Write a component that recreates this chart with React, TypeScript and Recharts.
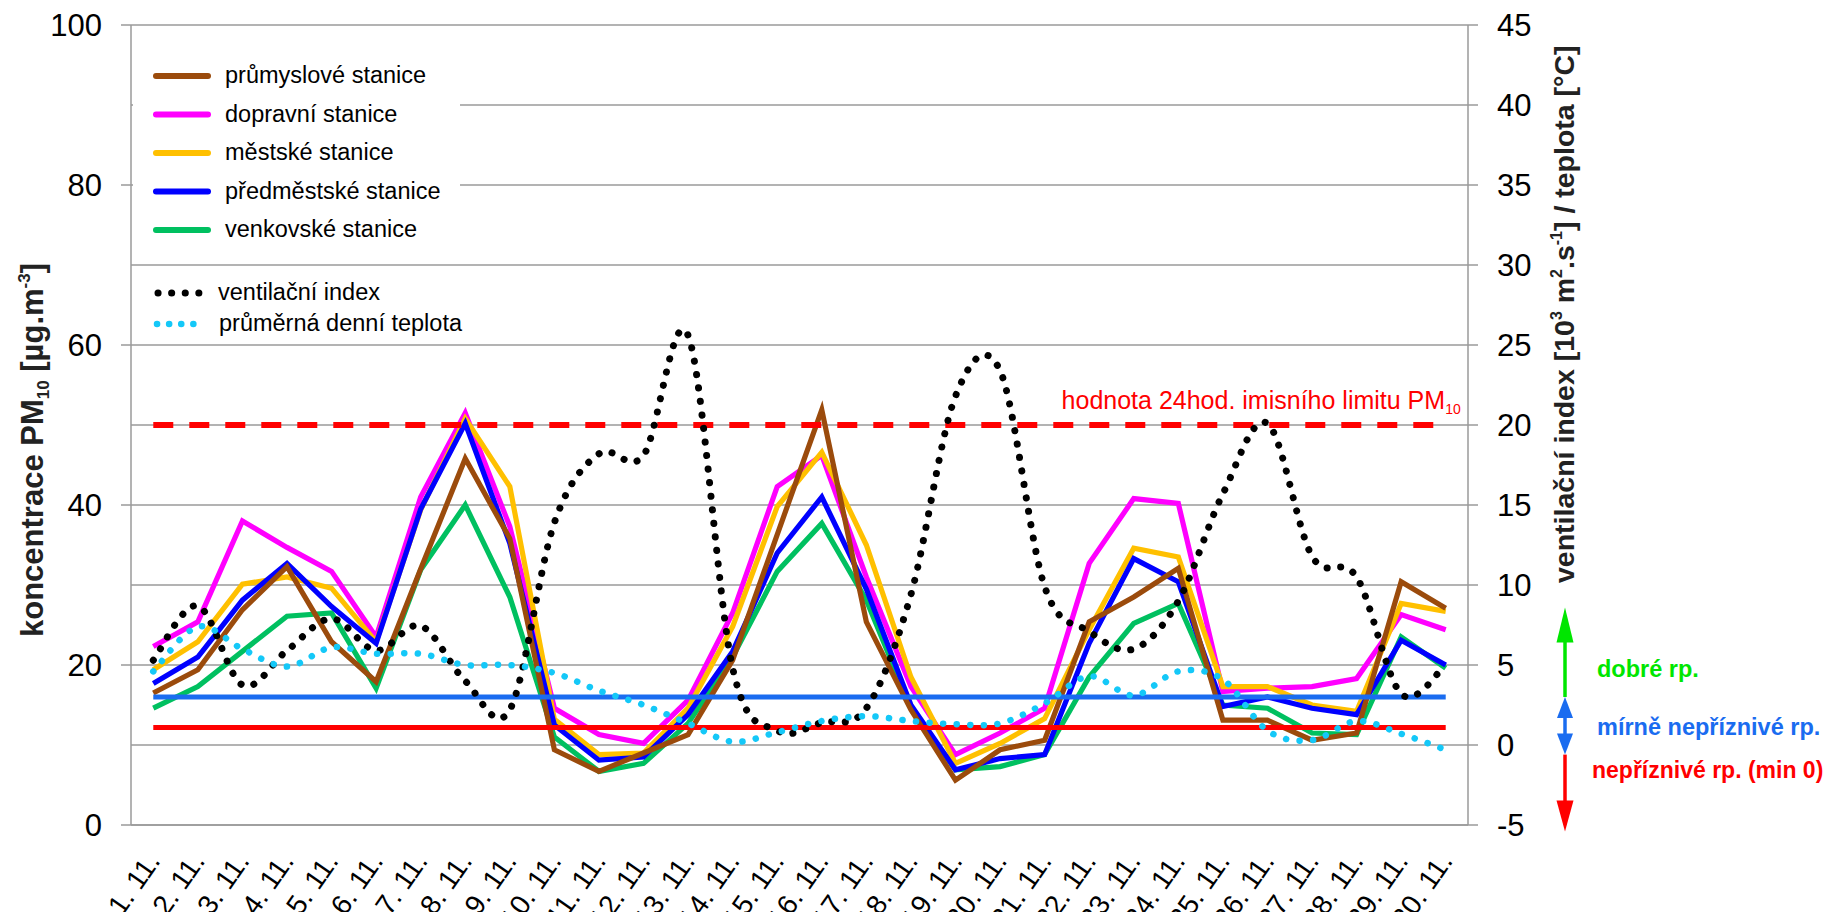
import React from "react";
import {
  LineChart,
  Line,
  XAxis,
  YAxis,
  CartesianGrid,
  ReferenceLine,
} from "recharts";

const days = [
  "1. 11.", "2. 11.", "3. 11.", "4. 11.", "5. 11.", "6. 11.", "7. 11.", "8. 11.", "9. 11.", "10. 11.",
  "11. 11.", "12. 11.", "13. 11.", "14. 11.", "15. 11.", "16. 11.", "17. 11.", "18. 11.", "19. 11.", "20. 11.",
  "21. 11.", "22. 11.", "23. 11.", "24. 11.", "25. 11.", "26. 11.", "27. 11.", "28. 11.", "29. 11.", "30. 11.",
];

// PM10 [µg.m-3]
const prumyslove = [16.5, 19.4, 26.9, 32.3, 22.9, 17.9, 32.0, 45.8, 35.8, 9.4, 6.7, 9.0, 11.3, 20.6, 36.3, 51.9, 25.4, 14.4, 5.6, 9.4, 10.6, 25.4, 28.5, 32.1, 13.1, 13.1, 10.6, 11.5, 30.4, 27.1];
const dopravni = [22.3, 25.4, 38.0, 34.7, 31.7, 23.5, 41.0, 51.5, 37.3, 14.6, 11.3, 10.2, 15.6, 26.5, 42.3, 46.2, 31.0, 17.3, 8.8, 11.5, 14.6, 32.7, 40.8, 40.2, 16.7, 17.1, 17.3, 18.3, 26.3, 24.4];
const mestske = [19.4, 22.9, 30.1, 31.0, 29.6, 22.9, 39.4, 50.8, 42.3, 13.2, 8.8, 9.0, 14.6, 24.8, 39.8, 46.6, 35.0, 18.5, 7.7, 10.2, 13.3, 24.4, 34.6, 33.5, 17.3, 17.3, 15.0, 14.2, 27.7, 26.7];
const predmestske = [17.7, 21.0, 28.1, 32.7, 27.3, 22.7, 39.5, 50.2, 35.2, 12.5, 8.1, 8.5, 13.8, 21.7, 34.0, 41.0, 29.5, 15.0, 6.9, 8.3, 8.8, 22.7, 33.3, 30.4, 14.8, 16.0, 14.6, 13.8, 23.1, 20.0];
const venkovske = [14.6, 17.3, 21.7, 26.1, 26.5, 17.1, 31.9, 40.0, 28.5, 11.0, 6.7, 7.7, 12.7, 21.0, 31.7, 37.7, 28.1, 14.6, 6.9, 7.3, 8.8, 18.5, 25.2, 27.7, 15.0, 14.6, 11.5, 11.3, 23.5, 19.6];

// right axis: ventilation index [10^3 m2.s-1] / temperature [°C]
const ventilacni = [5.3, 8.7, 3.75, 5.9, 7.9, 5.9, 7.45, 4.0, 2.2, 13.9, 18.2, 18.1, 25.6, 4.8, 0.9, 1.4, 2.3, 9.4, 21.8, 23.4, 9.9, 7.1, 6.0, 9.0, 15.7, 20.1, 11.8, 10.5, 3.2, 5.0];
const teplota = [4.6, 7.4, 6.0, 4.9, 6.1, 5.7, 5.7, 5.0, 5.0, 4.5, 3.4, 2.5, 1.35, 0.2, 0.8, 1.5, 1.8, 1.5, 1.3, 1.35, 2.6, 4.3, 3.1, 4.6, 4.1, 0.9, 0.3, 1.5, 0.7, -0.3];

const leftTicks = [0, 20, 40, 60, 80, 100];
const rightTicks = [-5, 0, 5, 10, 15, 20, 25, 30, 35, 40, 45];

const limitPM10 = 50;
const ventGood = 3; // 3000 m2/s
const ventBad = 1.1; // 1100 m2/s

const FONT = "'Liberation Sans', Arial, sans-serif";
const GRID = "#9a9a9a";

const W = 1834;
const H = 920;
const PLOT_TOP = 25;
const PLOT_H = 800;
const rightY = (v: number) => PLOT_TOP + ((45 - v) / 50) * PLOT_H;

const data = days.map((label, i) => ({
  day: i + 1,
  label,
  prumyslove: prumyslove[i],
  dopravni: dopravni[i],
  mestske: mestske[i],
  predmestske: predmestske[i],
  venkovske: venkovske[i],
  ventilacni: ventilacni[i],
  teplota: teplota[i],
}));

const dayTicks = days.map((_, i) => i + 1);
const boundaryTicks = [0.5, ...days.map((_, i) => i + 1.5)];

const series = [
  { key: "venkovske", name: "venkovské stanice", color: "#00C060" },
  { key: "dopravni", name: "dopravní stanice", color: "#FF00FF" },
  { key: "mestske", name: "městské stanice", color: "#FFC000" },
  { key: "predmestske", name: "předměstské stanice", color: "#0000FF" },
  { key: "prumyslove", name: "průmyslové stanice", color: "#9B4B0C" },
];
const legendOrder = ["prumyslove", "dopravni", "mestske", "predmestske", "venkovske"];

// smoothing like the spreadsheet (Catmull-Rom through the points)
const smooth = (context: any) => {
  let pts: number[][] = [];
  return {
    areaStart() {},
    areaEnd() {},
    lineStart() {
      pts = [];
    },
    point(x: number, y: number) {
      pts.push([x, y]);
    },
    lineEnd() {
      if (!pts.length) return;
      context.moveTo(pts[0][0], pts[0][1]);
      for (let i = 0; i < pts.length - 1; i++) {
        const p0 = pts[i - 1] || pts[i];
        const p1 = pts[i];
        const p2 = pts[i + 1];
        const p3 = pts[i + 2] || p2;
        context.bezierCurveTo(
          p1[0] + (p2[0] - p0[0]) / 6,
          p1[1] + (p2[1] - p0[1]) / 6,
          p2[0] - (p3[0] - p1[0]) / 6,
          p2[1] - (p3[1] - p1[1]) / 6,
          p2[0],
          p2[1]
        );
      }
    },
  };
};

const DayTick = (props: any) => {
  const { x, y, payload } = props;
  const label = days[payload.value - 1];
  if (!label) return null;
  return (
    <text
      transform={`translate(${x + 8},${y + 35}) rotate(-55)`}
      textAnchor="end"
      fontSize={28}
      fontFamily={FONT}
      fill="#000"
    >
      {label}
    </text>
  );
};

const LimitLabel = (props: any) => {
  const vb = props.viewBox || {};
  const x = (vb.x || 0) + (vb.width || 0) + 15;
  const y = (vb.y || 0) - 16;
  return (
    <text x={x} y={y} textAnchor="end" fontSize={25} fontFamily={FONT} fill="#FF0000">
      hodnota 24hod. imisního limitu PM
      <tspan fontSize={14} dy={5}>10</tspan>
    </text>
  );
};

function Overlay() {
  const ax = 1565;
  const gTip = rightY(8.6);
  const gBase = rightY(ventGood);
  const bBottom = rightY(-0.6);
  const rTip = rightY(-5.4);
  return (
    <svg
      width={W}
      height={H}
      style={{ position: "absolute", left: 0, top: 0, pointerEvents: "none" }}
      fontFamily={FONT}
    >
      {/* legend boxes */}
      <rect x={133} y={60} width={327} height={197} fill="#fff" />
      {legendOrder.map((k, i) => {
        const s = series.find((d) => d.key === k)!;
        const cy = 76 + i * 38.5;
        return (
          <g key={k}>
            <line x1={156} x2={208} y1={cy} y2={cy} stroke={s.color} strokeWidth={6} strokeLinecap="round" />
            <text x={225} y={cy + 7} fontSize={23.5} fill="#000">
              {s.name}
            </text>
          </g>
        );
      })}
      <rect x={133} y={270} width={330} height={70} fill="#fff" />
      <line x1={158} x2={200} y1={293} y2={293} stroke="#000" strokeWidth={7} strokeLinecap="round" strokeDasharray="0.1 13.5" />
      <text x={218} y={300} fontSize={23.5} fill="#000">ventilační index</text>
      <line x1={157} x2={205} y1={324} y2={324} stroke="#14C8F8" strokeWidth={6.5} strokeLinecap="round" strokeDasharray="0.1 12" />
      <text x={219} y={331} fontSize={23.5} fill="#000">průměrná denní teplota</text>

      {/* axis titles */}
      <text transform="translate(43,637) rotate(-90)" fontSize={31} fontWeight="bold" fill="#222">
        koncentrace PM<tspan fontSize={17} dy={6}>10</tspan>
        <tspan dy={-6}> [µg.m</tspan>
        <tspan fontSize={17} dy={-13}>-3</tspan>
        <tspan dy={13}>]</tspan>
      </text>
      <text transform="translate(1574,583) rotate(-90)" fontSize={28.5} fontWeight="bold" fill="#222">
        ventilační index [10<tspan fontSize={16} dy={-12}>3</tspan>
        <tspan dy={12}> m</tspan>
        <tspan fontSize={16} dy={-12}>2</tspan>
        <tspan dy={12}>.s</tspan>
        <tspan fontSize={16} dy={-12}>-1</tspan>
        <tspan dy={12}>] / teplota [°C]</tspan>
      </text>

      {/* dispersion condition arrows */}
      <line x1={ax} x2={ax} y1={gTip + 34} y2={gBase} stroke="#00E600" strokeWidth={3.5} />
      <polygon points={`${ax},${gTip} ${ax - 8.5},${gTip + 35} ${ax + 8.5},${gTip + 35}`} fill="#00E600" />
      <line x1={ax} x2={ax} y1={gBase + 20} y2={bBottom - 20} stroke="#1A6CF0" strokeWidth={3.5} />
      <polygon points={`${ax},${gBase} ${ax - 8},${gBase + 21} ${ax + 8},${gBase + 21}`} fill="#1A6CF0" />
      <polygon points={`${ax},${bBottom} ${ax - 8},${bBottom - 21} ${ax + 8},${bBottom - 21}`} fill="#1A6CF0" />
      <line x1={ax} x2={ax} y1={bBottom} y2={rTip - 30} stroke="#FF0000" strokeWidth={3.5} />
      <polygon points={`${ax},${rTip} ${ax - 8.5},${rTip - 31} ${ax + 8.5},${rTip - 31}`} fill="#FF0000" />

      <text x={1597} y={677} fontSize={23.5} fontWeight="bold" fill="#00E600">dobré rp.</text>
      <text x={1597} y={735} fontSize={23.5} fontWeight="bold" fill="#1A6CF0">mírně nepříznivé rp.</text>
      <text x={1592} y={778} fontSize={23} fontWeight="bold" fill="#FF0000">nepříznivé rp. (min 0)</text>
    </svg>
  );
}

export default function App() {
  const tickStyle = { fontSize: 31, fill: "#000", fontFamily: FONT };
  return (
    <div style={{ position: "relative", width: W, height: H, margin: -8, background: "#fff", fontFamily: FONT }}>
      <LineChart width={W} height={H} data={data} margin={{ top: PLOT_TOP, right: 0, bottom: 0, left: 0 }}>
        <CartesianGrid yAxisId="right" xAxisId="bounds" vertical={false} stroke={GRID} strokeWidth={1.5} />
        <XAxis
          xAxisId="bounds"
          dataKey="day"
          type="number"
          domain={[0.5, 30.5]}
          ticks={boundaryTicks}
          tick={false}
          tickSize={10}
          height={1}
          axisLine={{ stroke: GRID, strokeWidth: 1.5 }}
          tickLine={{ stroke: GRID, strokeWidth: 1.5 }}
          interval={0}
        />
        <XAxis
          xAxisId="days"
          dataKey="day"
          type="number"
          domain={[0.5, 30.5]}
          ticks={dayTicks}
          tick={<DayTick />}
          tickSize={0}
          tickMargin={0}
          height={94}
          axisLine={false}
          tickLine={false}
          interval={0}
        />
        <YAxis
          yAxisId="left"
          domain={[0, 100]}
          ticks={leftTicks}
          width={131}
          tick={tickStyle}
          tickSize={10}
          tickMargin={19}
          axisLine={{ stroke: GRID, strokeWidth: 1.5 }}
          tickLine={{ stroke: GRID, strokeWidth: 1.5 }}
          interval={0}
        />
        <YAxis
          yAxisId="right"
          orientation="right"
          domain={[-5, 45]}
          ticks={rightTicks}
          width={366}
          tick={tickStyle}
          tickSize={10}
          tickMargin={19}
          axisLine={{ stroke: GRID, strokeWidth: 1.5 }}
          tickLine={{ stroke: GRID, strokeWidth: 1.5 }}
          interval={0}
        />

        {series.map((s) => (
          <Line
            key={s.key}
            xAxisId="days"
            yAxisId="left"
            type="linear"
            dataKey={s.key}
            name={s.name}
            stroke={s.color}
            strokeWidth={5.2}
            strokeLinejoin="miter"
            dot={false}
            activeDot={false}
            isAnimationActive={false}
          />
        ))}

        <ReferenceLine
          xAxisId="days"
          yAxisId="right"
          segment={[{ x: 1, y: ventGood }, { x: 30, y: ventGood }]}
          stroke="#1A6CF0"
          strokeWidth={5}
        />
        <ReferenceLine
          xAxisId="days"
          yAxisId="right"
          segment={[{ x: 1, y: ventBad }, { x: 30, y: ventBad }]}
          stroke="#FF0000"
          strokeWidth={5}
        />
        <ReferenceLine
          xAxisId="days"
          yAxisId="left"
          segment={[{ x: 1, y: limitPM10 }, { x: 30, y: limitPM10 }]}
          stroke="#FF0000"
          strokeWidth={6}
          strokeDasharray="20 16"
          label={<LimitLabel />}
        />

        <Line
          xAxisId="days"
          yAxisId="right"
          type={smooth as any}
          dataKey="ventilacni"
          name="ventilační index"
          stroke="#000"
          strokeWidth={7}
          strokeLinecap="round"
          strokeDasharray="0.1 13.5"
          dot={false}
          activeDot={false}
          isAnimationActive={false}
        />
        <Line
          xAxisId="days"
          yAxisId="right"
          type={smooth as any}
          dataKey="teplota"
          name="průměrná denní teplota"
          stroke="#14C8F8"
          strokeWidth={6.5}
          strokeLinecap="round"
          strokeDasharray="0.1 13.5"
          dot={false}
          activeDot={false}
          isAnimationActive={false}
        />
      </LineChart>
      <Overlay />
    </div>
  );
}
